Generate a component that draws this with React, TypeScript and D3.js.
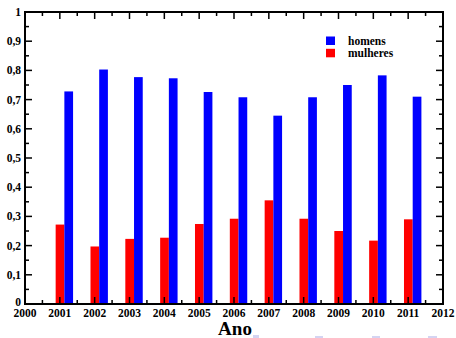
import React from "react";
import * as d3 from "d3";

const years = [2001, 2002, 2003, 2004, 2005, 2006, 2007, 2008, 2009, 2010, 2011];
const homens = [0.728, 0.803, 0.777, 0.773, 0.726, 0.708, 0.645, 0.708, 0.750, 0.783, 0.710];
const mulheres = [0.272, 0.197, 0.223, 0.227, 0.274, 0.292, 0.355, 0.292, 0.250, 0.217, 0.290];
const xTicks = [2000, 2001, 2002, 2003, 2004, 2005, 2006, 2007, 2008, 2009, 2010, 2011, 2012];
const yTicks = [0, 0.1, 0.2, 0.3, 0.4, 0.5, 0.6, 0.7, 0.8, 0.9, 1];
const seriesNames = ["homens", "mulheres"];
const seriesColors = ["#0000ff", "#ff0000"];

export default function App() {
  const W = 456, H = 338;
  const L = 25, R = 443, T = 12, B = 304;
  const x = d3.scaleLinear().domain([2000, 2012]).range([L, R]);
  const y = d3.scaleLinear().domain([0, 1]).range([B, T]);
  const font = "'Liberation Serif', 'Times New Roman', serif";
  const fmt = (v: number) => (v === 0 || v === 1 ? String(v) : v.toFixed(1).replace(".", ","));
  const xMinor = d3.range(2000.5, 2012, 1);
  const yMinor = d3.range(0.05, 1, 0.1);
  const maj = 7, min = 4;
  return (
    <svg width={W} height={H} style={{ position: "absolute", left: 0, top: 0, background: "#fff" }}>
      <rect x={0} y={0} width={W} height={H} fill="#fff" />
      {years.map((yr, i) => (
        <g key={yr}>
          <rect x={x(yr - 0.12)} y={y(mulheres[i])} width={x(yr + 0.13) - x(yr - 0.12)} height={y(0) - y(mulheres[i])} fill={seriesColors[1]} />
          <rect x={x(yr + 0.13)} y={y(homens[i])} width={x(yr + 0.38) - x(yr + 0.13)} height={y(0) - y(homens[i])} fill={seriesColors[0]} />
        </g>
      ))}
      {/* ticks */}
      <g stroke="#000" strokeWidth={1.5}>
        {xTicks.map((t) => (
          <g key={"xt" + t}>
            <line x1={x(t)} x2={x(t)} y1={B} y2={B - maj} />
            <line x1={x(t)} x2={x(t)} y1={T} y2={T + maj} />
          </g>
        ))}
        {xMinor.map((t) => (
          <g key={"xm" + t}>
            <line x1={x(t)} x2={x(t)} y1={B} y2={B - min} />
            <line x1={x(t)} x2={x(t)} y1={T} y2={T + min} />
          </g>
        ))}
        {yTicks.map((t) => (
          <g key={"yt" + t}>
            <line x1={L} x2={L + maj} y1={y(t)} y2={y(t)} />
            <line x1={R} x2={R - maj} y1={y(t)} y2={y(t)} />
          </g>
        ))}
        {yMinor.map((t) => (
          <g key={"ym" + t}>
            <line x1={L} x2={L + min} y1={y(t)} y2={y(t)} />
            <line x1={R} x2={R - min} y1={y(t)} y2={y(t)} />
          </g>
        ))}
      </g>
      <rect x={L} y={T} width={R - L} height={B - T} fill="none" stroke="#000" strokeWidth={2} />
      {/* labels */}
      <g fontFamily={font} fontWeight="bold" fontSize={11.5} fill="#000">
        {xTicks.map((t) => (
          <text key={"xl" + t} x={x(t)} y={316.5} textAnchor="middle">{t}</text>
        ))}
        {yTicks.map((t) => (
          <text key={"yl" + t} x={21} y={y(t) + (t === 0 ? 1.5 : 4)} textAnchor="end">{fmt(t)}</text>
        ))}
      </g>
      <text x={235} y={335} textAnchor="middle" fontFamily={font} fontWeight="bold" fontSize={19}>Ano</text>
      {/* faint scan artifacts along bottom edge */}
      <g fill="#d4d4f2">
        <rect x={253} y={335} width={6} height={3} />
        <rect x={315} y={336} width={8} height={2} />
        <rect x={372} y={336} width={8} height={2} />
        <rect x={428} y={336} width={9} height={2} />
      </g>
      {/* legend */}
      {seriesNames.map((n, i) => (
        <g key={n}>
          <rect x={326} y={36.5 + i * 12.3} width={9} height={8.5} fill={seriesColors[i]} />
          <text x={348} y={45 + i * 12.3} fontFamily={font} fontWeight="bold" fontSize={11.5}>{n}</text>
        </g>
      ))}
    </svg>
  );
}
